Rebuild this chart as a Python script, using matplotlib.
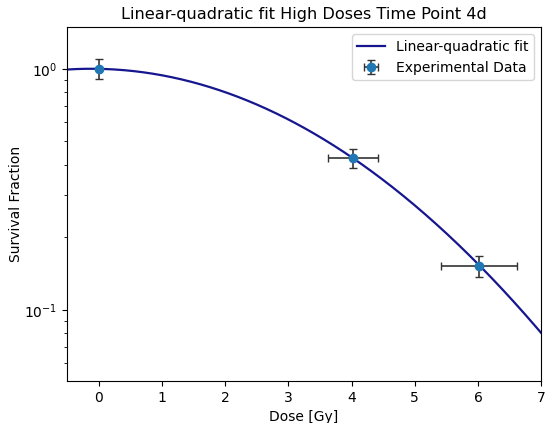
import numpy as np
import matplotlib
matplotlib.use("Agg")
import matplotlib.pyplot as plt

dose = [0.0, 4.02, 6.02]
survival = [1.0, 0.427, 0.152]
survival_err = [0.095, 0.04, 0.015]
dose_err = [0.0, 0.4, 0.6]

alpha = 0.0117
beta = 0.0498

fig, ax = plt.subplots(figsize=(5.45, 4.23), dpi=100)
d = np.linspace(-0.5, 7, 300)
ax.plot(d, np.exp(-alpha * d - beta * d**2), color='#16168f', lw=1.6, label='Linear-quadratic fit')
ax.errorbar(dose, survival, yerr=survival_err, xerr=dose_err, fmt='o', color='C0',
            ecolor='#333333', capsize=3, elinewidth=1.2, label='Experimental Data')
ax.set_yscale('log')
ax.set_xlim(-0.5, 7)
ax.set_ylim(0.0507, 1.49)
ax.set_xlabel('Dose [Gy]')
ax.set_ylabel('Survival Fraction', labelpad=0.5)
ax.set_title('Linear-quadratic fit High Doses Time Point 4d', fontsize=11.6)
ax.legend(loc='upper right')
fig.subplots_adjust(left=0.123, right=0.993, top=0.936, bottom=0.099)
fig.savefig('out.png', dpi=100)
